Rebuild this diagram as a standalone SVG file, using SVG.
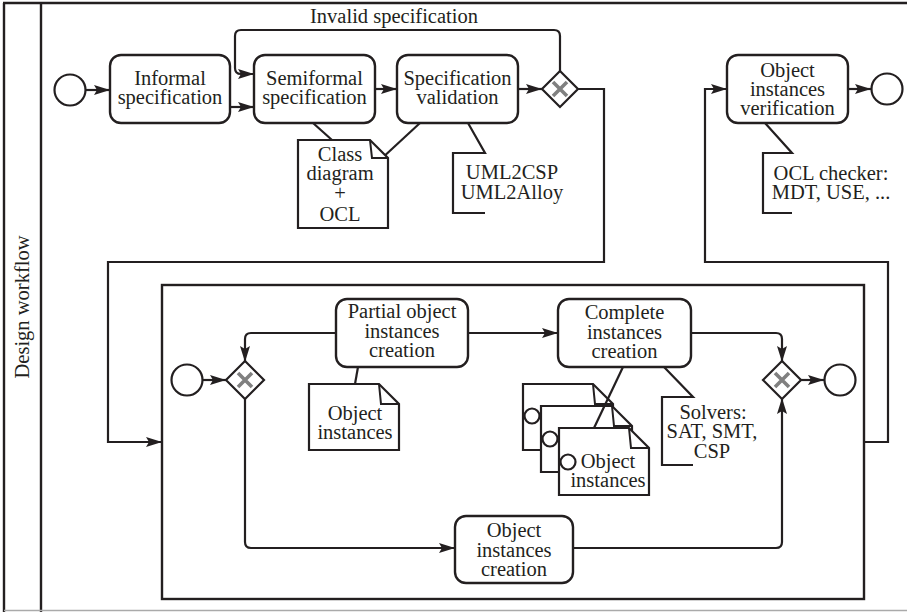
<svg xmlns="http://www.w3.org/2000/svg" width="907" height="612" viewBox="0 0 907 612">
<style>
text{font-family:"Liberation Serif","Times New Roman",serif;font-size:20.5px;fill:#231f20;text-anchor:middle}
.box{fill:#fff;stroke:#231f20;stroke-width:2.4}
.ev{fill:#fff;stroke:#231f20;stroke-width:2.2}
.gw{fill:#fff;stroke:#231f20;stroke-width:2.2}
.x{stroke:#808080;stroke-width:3.6;fill:none}
.doc{fill:#fff;stroke:#231f20;stroke-width:2.2;stroke-linejoin:miter}
.fold{fill:none;stroke:#231f20;stroke-width:2}
.flow{fill:none;stroke:#231f20;stroke-width:2.2}
.asc{fill:none;stroke:#231f20;stroke-width:2.2}
.frame{fill:none;stroke:#231f20;stroke-width:2.4}
</style>
<defs>
<marker id="ah" markerUnits="userSpaceOnUse" markerWidth="17" markerHeight="11" refX="16" refY="5.5" orient="auto">
<path d="M0,0.5 L16,5.5 L0,10.5 L3,5.5 Z" fill="#231f20"/>
</marker>
</defs>

<g id="frame">
<line class="frame" x1="3" y1="3" x2="907" y2="3"/>
<line class="frame" x1="4" y1="3" x2="4" y2="612"/>
<line class="frame" x1="41" y1="3" x2="41" y2="612"/>
<line x1="4" y1="610.5" x2="907" y2="610.5" stroke="#aaa" stroke-width="1.5"/>
<text transform="translate(29,307) rotate(-90)">Design workflow</text>
</g>

<g id="subprocess">
<rect x="162" y="285" width="702" height="314" fill="none" stroke="#231f20" stroke-width="2.4"/>
</g>

<g id="connectors">
<path class="flow" d="M86,90 H110" marker-end="url(#ah)"/>
<path class="flow" d="M230,107 H254" marker-end="url(#ah)"/>
<path class="flow" d="M375,89 H397" marker-end="url(#ah)"/>
<path class="flow" d="M518,89 H542" marker-end="url(#ah)"/>
<path class="flow" d="M560,71 V36 Q560,30 554,30 H241 Q235,30 235,36 V68 Q235,74 241,74 H254" marker-end="url(#ah)"/>
<path class="flow" d="M578,89 H604 V262 H108 V442 H162" marker-end="url(#ah)"/>
<path class="flow" d="M864,442 H888 V262 H705 V89 H727" marker-end="url(#ah)"/>
<path class="flow" d="M848,89 H871" marker-end="url(#ah)"/>
<path class="flow" d="M202,380 H226" marker-end="url(#ah)"/>
<path class="flow" d="M336,333 H251 Q245,333 245,339 V362" marker-end="url(#ah)"/>
<path class="flow" d="M245,398 V542 Q245,548 251,548 H455" marker-end="url(#ah)"/>
<path class="flow" d="M573,548 H776 Q782,548 782,542 V398" marker-end="url(#ah)"/>
<path class="flow" d="M468,333 H558" marker-end="url(#ah)"/>
<path class="flow" d="M691,333 H776 Q782,333 782,339 V362" marker-end="url(#ah)"/>
<path class="flow" d="M801,380 H824" marker-end="url(#ah)"/>
<path class="asc" d="M313,123 L332,140"/>
<path class="asc" d="M420,123 L380,160"/>
<path class="asc" d="M358,367 L355,384"/>
</g>

<g id="start1"><circle class="ev" cx="70" cy="90" r="15.5"/></g>
<g id="informal"><rect class="box" x="110" y="55" width="120" height="68" rx="11"/>
<text x="170" y="85">Informal</text><text x="170" y="104">specification</text></g>
<g id="semiformal"><rect class="box" x="254" y="55" width="121" height="68" rx="11"/>
<text x="314.5" y="85">Semiformal</text><text x="314.5" y="104">specification</text></g>
<g id="validation"><rect class="box" x="397" y="55" width="121" height="68" rx="11"/>
<text x="457.5" y="85">Specification</text><text x="457.5" y="104">validation</text></g>
<g id="gw-top"><path class="gw" d="M560,71 L578,89 L560,107 L542,89 Z"/>
<path class="x" d="M553,82 L567,96 M567,82 L553,96"/></g>
<g id="invalid-label"><text x="394" y="23">Invalid specification</text></g>

<g id="classdoc"><path class="doc" d="M298,140 H370 L388,158 V228 H298 Z"/>
<path class="fold" d="M370,140 L372,158 L388,158"/>
<text x="340" y="161">Class</text><text x="340" y="180">diagram</text><text x="340" y="200">+</text><text x="340" y="221">OCL</text></g>

<g id="ann-uml"><path class="asc" d="M468,123 L485,153 H453 V213 H485"/>
<text x="512" y="179">UML2CSP</text><text x="512" y="199">UML2Alloy</text></g>

<g id="verification"><rect class="box" x="727" y="55" width="121" height="68" rx="11"/>
<text x="787.5" y="76.5">Object</text><text x="787.5" y="96">instances</text><text x="787.5" y="115">verification</text></g>
<g id="end1"><circle class="ev" cx="887" cy="89" r="15.5"/></g>
<g id="ann-ocl"><path class="asc" d="M765,123 L792,153 H763 V213 H792"/>
<text x="831" y="180">OCL checker:</text><text x="831" y="199">MDT, USE, ...</text></g>

<g id="start2"><circle class="ev" cx="187" cy="380" r="15.5"/></g>
<g id="gw1"><path class="gw" d="M245,361 L264,380 L245,399 L226,380 Z"/>
<path class="x" d="M238,373 L252,387 M252,373 L238,387"/></g>
<g id="partial"><rect class="box" x="336" y="299" width="132" height="68" rx="11"/>
<text x="402" y="318">Partial object</text><text x="402" y="338">instances</text><text x="402" y="357">creation</text></g>
<g id="objdoc1"><path class="doc" d="M309,384 H379 L399,404 V450 H309 Z"/>
<path class="fold" d="M379,384 L381,404 L399,404"/>
<text x="355" y="420">Object</text><text x="355" y="439">instances</text></g>
<g id="complete"><rect class="box" x="558" y="299" width="133" height="68" rx="11"/>
<text x="624.5" y="319">Complete</text><text x="624.5" y="339">instances</text><text x="624.5" y="358">creation</text></g>
<g id="objstack">
<path class="doc" d="M523,384 H593 L613,404 V450 H523 Z"/><path class="fold" d="M593,384 L595,404 L613,404"/>
<circle class="ev" cx="532" cy="416" r="7.5"/>
<path class="doc" d="M541,406 H612 L632,426 V472 H541 Z"/><path class="fold" d="M612,406 L614,426 L632,426"/>
<circle class="ev" cx="550" cy="439" r="7.5"/>
<path class="asc" d="M623,367 L594,428"/>
<path class="doc" d="M559,428 H629 L649,448 V495 H559 Z"/><path class="fold" d="M629,428 L631,448 L649,448"/>
<circle class="ev" cx="568" cy="462" r="7.5"/>
<text x="608" y="467.5">Object</text><text x="608" y="487">instances</text>
</g>
<g id="ann-solvers"><path class="asc" d="M664,367 L693,397 H662 V465 H693"/>
<text x="713" y="419">Solvers:</text><text x="712" y="438">SAT, SMT,</text><text x="712" y="458">CSP</text></g>
<g id="gw2"><path class="gw" d="M782,361 L801,380 L782,399 L763,380 Z"/>
<path class="x" d="M775,373 L789,387 M789,373 L775,387"/></g>
<g id="end2"><circle class="ev" cx="840" cy="380" r="15.5"/></g>
<g id="objcreation"><rect class="box" x="455" y="516" width="118" height="67" rx="11"/>
<text x="514" y="537">Object</text><text x="514" y="557">instances</text><text x="514" y="576">creation</text></g>
</svg>
